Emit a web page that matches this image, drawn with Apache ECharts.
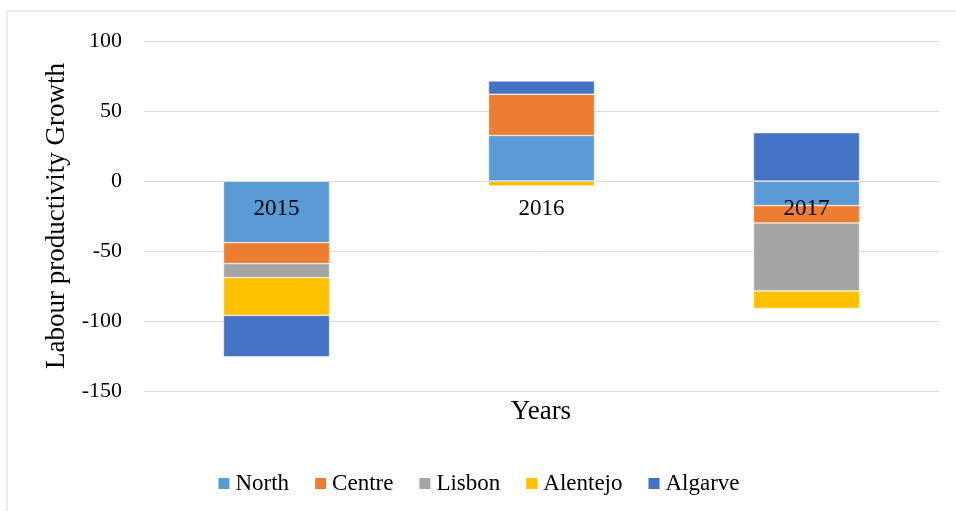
<!DOCTYPE html>
<html>
<head>
<meta charset="utf-8">
<script src="https://cdn.jsdelivr.net/npm/echarts@6/dist/echarts.min.js"></script>
<style>
  html, body { margin: 0; padding: 0; background: #fff; }
  #chart { width: 956px; height: 511px; }
</style>
</head>
<body>
<div id="chart"></div>
<script>
// data
var years = ['2015', '2016', '2017'];
var regions = ['North', 'Centre', 'Lisbon', 'Alentejo', 'Algarve'];
var north = [-44, 32.5, -17.5];
var centre = [-15, 29.5, -12.5];
var lisbon = [-10, 0, -48.5];
var alentejo = [-27, -3.5, -12.5];
var algarve = [-29.5, 9.5, 34.5];
var yTicks = { min: -150, max: 100, step: 50 };

var font = 'Liberation Serif';
var chart = echarts.init(document.getElementById('chart'));

function bar(name, data, color) {
	return {
		name: name,
		type: 'bar',
		stack: 'total',
		barWidth: 106,
		data: data,
		itemStyle: { color: color, borderColor: '#ffffff', borderWidth: 0.5 }
	};
}

var legendText = { fontFamily: font, fontSize: 23, color: '#000' };

chart.setOption({
	backgroundColor: '#ffffff',
	animation: false,
	textStyle: { fontFamily: font },
	grid: { left: 144, right: 17, top: 41, bottom: 120, outerBoundsMode: 'none' },
	legend: {
		top: 467,
		left: 'center',
		icon: 'rect',
		itemWidth: 13,
		itemHeight: 13,
		itemGap: 24,
		textStyle: legendText,
		data: regions.map(function (r) {
			return { name: r, textStyle: legendText };
		})
	},
	xAxis: {
		type: 'category',
		data: years,
		z: 10,
		// the category axis sits on the zero line (210px above the grid bottom)
		offset: -210,
		axisLine: { onZero: false, lineStyle: { color: '#d9d9d9' } },
		axisTick: { show: false },
		axisLabel: { margin: 16, fontFamily: font, fontSize: 23, color: '#000' }
	},
	yAxis: {
		type: 'value',
		min: yTicks.min,
		max: yTicks.max,
		interval: yTicks.step,
		name: 'Labour productivity Growth',
		nameLocation: 'middle',
		nameGap: 72,
		nameTextStyle: { fontFamily: font, fontSize: 27, color: '#000' },
		axisLine: { show: false },
		axisTick: { show: false },
		axisLabel: { margin: 22, fontFamily: font, fontSize: 22, color: '#000' },
		splitLine: { lineStyle: { color: '#d9d9d9', width: 1 } }
	},
	graphic: [
		{
			type: 'rect',
			shape: { x: 7, y: 11, width: 1000, height: 600 },
			style: { fill: 'none', stroke: '#d9d9d9', lineWidth: 1 },
			silent: true
		},
		{
			type: 'text',
			x: 541,
			y: 412,
			style: {
				text: 'Years',
				font: '27px "Liberation Serif"',
				fill: '#000',
				align: 'center',
				verticalAlign: 'middle'
			}
		}
	],
	series: [
		bar('North', north, '#5B9BD5'),
		bar('Centre', centre, '#ED7D31'),
		bar('Lisbon', lisbon, '#A5A5A5'),
		bar('Alentejo', alentejo, '#FFC000'),
		bar('Algarve', algarve, '#4472C4')
	]
});
</script>
</body>
</html>
